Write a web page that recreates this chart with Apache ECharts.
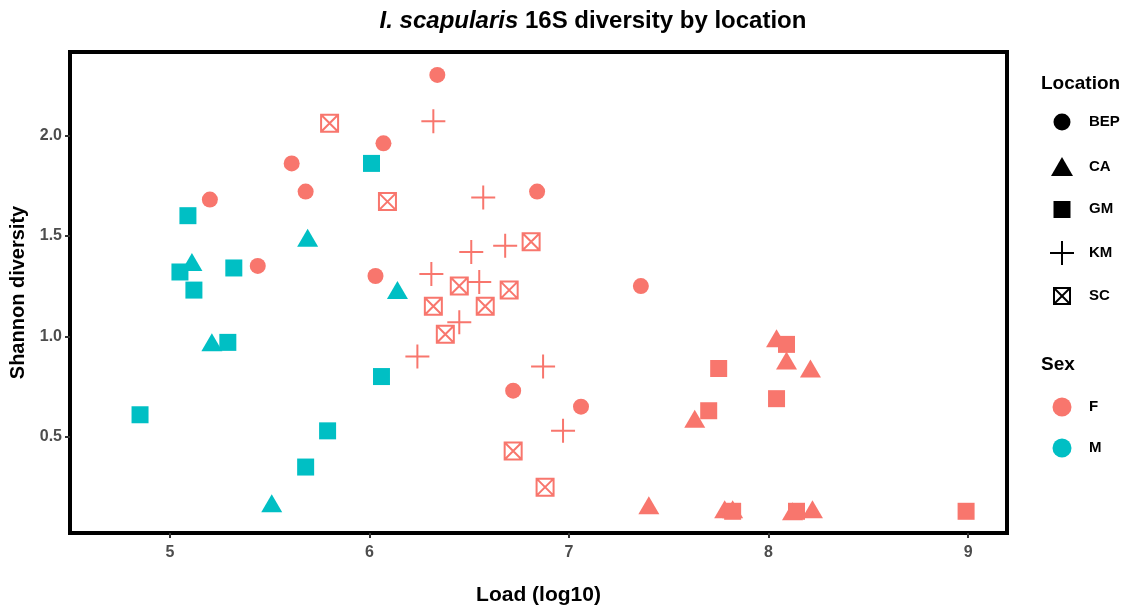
<!DOCTYPE html>
<html>
<head>
<meta charset="utf-8">
<script src="https://cdn.jsdelivr.net/npm/echarts@6/dist/echarts.min.js"></script>
<style>
  html, body { margin: 0; padding: 0; background: #fff; }
  #chart { width: 1130px; height: 611px; }
</style>
</head>
<body>
<div id="chart"></div>
<script>
// colours for sex
const pink = "#F8766D";
const teal = "#00BFC4";

// BEP (all female)
const bepLoad = [6.34, 6.07, 5.61, 5.68, 5.20, 5.44, 6.03, 6.84, 7.36, 6.72, 7.06];
const bepDiv = [2.30, 1.96, 1.86, 1.72, 1.68, 1.35, 1.30, 1.72, 1.25, 0.73, 0.65];
const bepSex = ["F", "F", "F", "F", "F", "F", "F", "F", "F", "F", "F"];

// CA
const caLoad = [5.69, 5.11, 6.14, 5.21, 5.51, 8.04, 8.09, 8.21, 7.63, 7.40, 7.78, 7.82, 8.12, 8.22];
const caDiv = [1.49, 1.37, 1.23, 0.97, 0.17, 0.99, 0.88, 0.84, 0.59, 0.16, 0.14, 0.14, 0.13, 0.14];
const caSex = ["M", "M", "M", "M", "M", "F", "F", "F", "F", "F", "F", "F", "F", "F"];

// GM
const gmLoad = [6.01, 5.09, 5.05, 5.32, 5.12, 5.29, 6.06, 4.85, 5.79, 5.68, 8.09, 7.75, 7.70, 8.04, 7.82, 8.14, 8.99];
const gmDiv = [1.86, 1.60, 1.32, 1.34, 1.23, 0.97, 0.80, 0.61, 0.53, 0.35, 0.96, 0.84, 0.63, 0.69, 0.13, 0.13, 0.13];
const gmSex = ["M", "M", "M", "M", "M", "M", "M", "M", "M", "M", "F", "F", "F", "F", "F", "F", "F"];

// KM (all female)
const kmLoad = [6.32, 6.57, 6.51, 6.68, 6.31, 6.55, 6.45, 6.24, 6.87, 6.97];
const kmDiv = [2.07, 1.69, 1.42, 1.45, 1.31, 1.27, 1.07, 0.90, 0.85, 0.53];
const kmSex = ["F", "F", "F", "F", "F", "F", "F", "F", "F", "F"];

// SC (all female)
const scLoad = [5.80, 6.09, 6.81, 6.45, 6.70, 6.32, 6.58, 6.38, 6.72, 6.88];
const scDiv = [2.06, 1.67, 1.47, 1.25, 1.23, 1.15, 1.15, 1.01, 0.43, 0.25];
const scSex = ["F", "F", "F", "F", "F", "F", "F", "F", "F", "F"];

const xTicks = [5, 6, 7, 8, 9];
const yTicks = [0.5, 1.0, 1.5, 2.0];

const plusPath = "path://M0,5L10,5M5,0L5,10";
const boxXPath = "path://M0,0L10,0L10,10L0,10ZM0,0L10,10M10,0L0,10";

const sexColor = (s) => (s === "M" ? teal : pink);

// filled markers
function filled(load, div, sex) {
  return load.map((v, i) => ({
    value: [v, div[i]],
    itemStyle: { color: sexColor(sex[i]), opacity: 1 }
  }));
}
// outline markers (plus, boxed x)
function stroked(load, div, sex) {
  return load.map((v, i) => ({
    value: [v, div[i]],
    itemStyle: { color: "rgba(0,0,0,0)", borderColor: sexColor(sex[i]), borderWidth: 2, opacity: 1 }
  }));
}

const font = "'Liberation Sans', Arial, sans-serif";
const chart = echarts.init(document.getElementById("chart"));

// legend drawn by hand
const lx = 1062;
const labelX = 1089;
const legendText = (t, y) => ({
  type: "text", left: labelX, top: y - 8,
  style: { text: t, font: "bold 15px " + font, fill: "#000" }
});
const graphic = [
  { type: "text", left: 1041, top: 74, style: { text: "Location", font: "bold 19px " + font, fill: "#000" } },
  { type: "circle", shape: { cx: lx, cy: 122, r: 8.5 }, style: { fill: "#000" } },
  legendText("BEP", 122),
  { type: "polygon", shape: { points: [[lx, 157], [lx + 11, 176], [lx - 11, 176]] }, style: { fill: "#000" } },
  legendText("CA", 167),
  { type: "rect", shape: { x: lx - 8.5, y: 201, width: 17, height: 17 }, style: { fill: "#000" } },
  legendText("GM", 209),
  { type: "polyline", shape: { points: [[lx - 12, 253], [lx + 12, 253]] }, style: { stroke: "#000", lineWidth: 2 } },
  { type: "polyline", shape: { points: [[lx, 241], [lx, 265]] }, style: { stroke: "#000", lineWidth: 2 } },
  legendText("KM", 253),
  { type: "rect", shape: { x: lx - 8, y: 288, width: 16, height: 16 }, style: { fill: "none", stroke: "#000", lineWidth: 2 } },
  { type: "polyline", shape: { points: [[lx - 8, 288], [lx + 8, 304]] }, style: { stroke: "#000", lineWidth: 2 } },
  { type: "polyline", shape: { points: [[lx + 8, 288], [lx - 8, 304]] }, style: { stroke: "#000", lineWidth: 2 } },
  legendText("SC", 296),
  { type: "text", left: 1041, top: 355, style: { text: "Sex", font: "bold 19px " + font, fill: "#000" } },
  { type: "circle", shape: { cx: lx, cy: 407, r: 9.5 }, style: { fill: pink } },
  legendText("F", 407),
  { type: "circle", shape: { cx: lx, cy: 448, r: 9.5 }, style: { fill: teal } },
  legendText("M", 448)
];

const option = {
  animation: false,
  backgroundColor: "#fff",
  title: {
    text: "{i|I. scapularis} 16S diversity by location",
    left: 588,
    textAlign: "center",
    top: 4,
    textStyle: {
      fontFamily: font, fontWeight: "bold", fontSize: 24, color: "#000",
      rich: { i: { fontFamily: font, fontWeight: "bold", fontStyle: "italic", fontSize: 24, color: "#000" } }
    }
  },
  grid: {
    left: 70, right: 123, top: 52, bottom: 77,
    show: true, borderColor: "#000", borderWidth: 4, backgroundColor: "#fff"
  },
  graphic: graphic,
  xAxis: {
    type: "value",
    min: 4.499, max: 9.195,
    name: "Load (log10)",
    nameLocation: "middle",
    nameGap: 52,
    nameTextStyle: { fontFamily: font, fontWeight: "bold", fontSize: 21, color: "#000" },
    splitLine: { show: false },
    axisLine: { show: false },
    axisTick: { show: true, customValues: xTicks, length: 5, lineStyle: { color: "#333", width: 2 } },
    axisLabel: {
      customValues: xTicks, margin: 12,
      fontFamily: font, fontWeight: "bold", fontSize: 16, color: "#4D4D4D"
    }
  },
  yAxis: {
    type: "value",
    min: 0.022, max: 2.414,
    name: "Shannon diversity",
    nameLocation: "middle",
    nameGap: 40,
    nameTextStyle: { fontFamily: font, fontWeight: "bold", fontSize: 20, color: "#000" },
    splitLine: { show: false },
    axisLine: { show: false },
    axisTick: { show: true, customValues: yTicks, length: 5, lineStyle: { color: "#333", width: 2 } },
    axisLabel: {
      customValues: yTicks, margin: 8,
      formatter: (v) => v.toFixed(1),
      fontFamily: font, fontWeight: "bold", fontSize: 16, color: "#4D4D4D"
    }
  },
  series: [
    { name: "BEP", type: "scatter", symbol: "circle", symbolSize: 16, data: filled(bepLoad, bepDiv, bepSex) },
    { name: "CA", type: "scatter", symbol: "triangle", symbolSize: [21, 18], data: filled(caLoad, caDiv, caSex) },
    { name: "GM", type: "scatter", symbol: "rect", symbolSize: 17, data: filled(gmLoad, gmDiv, gmSex) },
    { name: "KM", type: "scatter", symbol: plusPath, symbolSize: 24, data: stroked(kmLoad, kmDiv, kmSex) },
    { name: "SC", type: "scatter", symbol: boxXPath, symbolSize: 17, data: stroked(scLoad, scDiv, scSex) }
  ]
};

chart.setOption(option);
window.addEventListener("resize", function () {
  chart.resize();
});
</script>
</body>
</html>
